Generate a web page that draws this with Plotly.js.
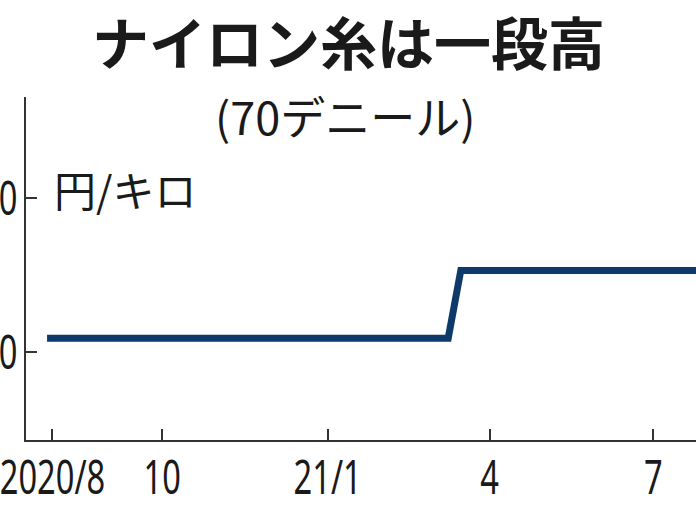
<!DOCTYPE html>
<html>
<head>
<meta charset="utf-8">
<script src="https://cdn.plot.ly/plotly-3.0.1.min.js"></script>
<style>
html,body{margin:0;padding:0;width:696px;height:522px;overflow:hidden;background:#fff;}
#wrap{position:absolute;left:-60px;top:0;width:820px;height:522px;}
</style>
</head>
<body>
<div id="wrap"></div>
<script>
// Data: nylon yarn (70 denier) price, yen per kg
const dates = ['2020-07-29', '2021-03-09', '2021-03-16', '2021-08-16'];
const prices = [609, 609, 653, 653];
const tickDates = ['2020-08-01', '2020-10-01', '2021-01-01', '2021-04-01', '2021-07-01'];
const tickLabels = ['2020/8', '10', '21/1', '4', '7'];
const yTicks = [600, 700];
const yTickLabels = ['600', '700'];

const titleText = 'ナイロン糸は一段高';
const subtitleText = '(70デニール)';
const unitText = '円/キロ';

const jp = '"Noto Sans CJK JP", "Noto Sans", sans-serif';
const num = '"Noto Sans", "DejaVu Sans", sans-serif';

const trace = {
  x: dates, y: prices, type: 'scatter', mode: 'lines',
  line: {color: '#0d3a6b', width: 7, shape: 'linear'},
  hoverinfo: 'skip'
};

const layout = {
  width: 820, height: 522,
  margin: {l: 86, r: 20, t: 97, b: 82},
  paper_bgcolor: '#ffffff', plot_bgcolor: '#ffffff',
  showlegend: false,
  xaxis: {
    type: 'date',
    range: ['2020-07-17 07:00', '2021-08-18 05:00'],
    tickmode: 'array', tickvals: tickDates, ticktext: tickLabels,
    ticks: 'inside', ticklen: 11, tickwidth: 2, tickcolor: '#333',
    showline: true, linecolor: '#333', linewidth: 2,
    showgrid: false, zeroline: false,
    tickfont: {family: num, size: 48, color: '#1a1a1a'},
    ticklabelstandoff: -6
  },
  yaxis: {
    range: [542.9, 765.6],
    tickmode: 'array', tickvals: yTicks, ticktext: yTickLabels,
    ticks: 'inside', ticklen: 11, tickwidth: 2, tickcolor: '#333',
    showline: true, linecolor: '#333', linewidth: 2,
    showgrid: false, zeroline: false,
    tickfont: {family: num, size: 48, color: '#1a1a1a'},
    ticklabelstandoff: -3
  },
  annotations: [
    {text: '<b>' + titleText + '</b>', xref: 'paper', yref: 'paper',
     x: 0.451, y: 1.166, xanchor: 'center', yanchor: 'middle', showarrow: false,
     font: {family: jp, size: 57, color: '#1a1a1a'}},
    {text: subtitleText, xref: 'paper', yref: 'paper',
     x: 0.447, y: 0.945, xanchor: 'center', yanchor: 'middle', showarrow: false,
     font: {family: jp, size: 45, color: '#1a1a1a'}},
    {text: unitText, xref: 'paper', yref: 'paper',
     x: 0.0365, y: 0.732, xanchor: 'left', yanchor: 'middle', showarrow: false,
     font: {family: jp, size: 42, color: '#1a1a1a'}}
  ]
};

Plotly.newPlot('wrap', [trace], layout, {staticPlot: true, displayModeBar: false}).then(function () {
  // condensed numerals, as in the reference
  document.querySelectorAll('#wrap .xtick text, #wrap .ytick text').forEach(function (t) {
    const len = t.getComputedTextLength();
    t.setAttribute('textLength', (len * 0.68).toFixed(1));
    t.setAttribute('lengthAdjust', 'spacingAndGlyphs');
  });
});
</script>
</body>
</html>
